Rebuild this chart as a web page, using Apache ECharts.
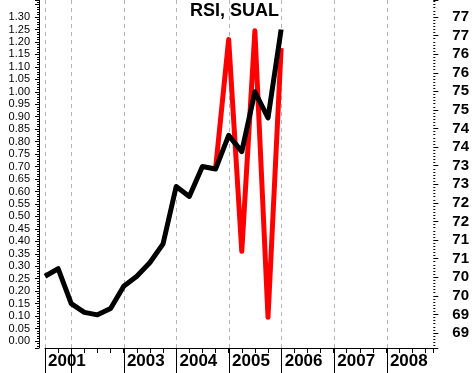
<!DOCTYPE html>
<html><head><meta charset="utf-8">
<script src="https://cdn.jsdelivr.net/npm/echarts@6/dist/echarts.min.js"></script>
<style>html,body{margin:0;padding:0;background:#fff}#c{width:472px;height:373px}</style>
</head><body><div id="c"></div>
<script>
// ---- data ----
const quarters = ['2001Q3','2001Q4','2002Q1','2002Q2','2002Q3','2002Q4','2003Q1','2003Q2','2003Q3','2003Q4',
                  '2004Q1','2004Q2','2004Q3','2004Q4','2005Q1','2005Q2','2005Q3','2005Q4','2006Q1'];
const blackValues = [0.26,0.29,0.15,0.115,0.105,0.13,0.22,0.26,0.315,0.39,
                     0.62,0.58,0.70,0.69,0.825,0.76,1.00,0.895,1.25];
const redQuarters = ['2004Q4','2005Q1','2005Q2','2005Q3','2005Q4','2006Q1'];
const redValues = [0.69,1.21,0.36,1.245,0.095,1.175];
const yearTicks = [2001.5,2002,2003,2004,2005,2006,2007,2008];
const yearLabels = ['2001','','2003','2004','2005','2006','2007','2008'];
const leftLabelRange = [0, 1.30];
const rightLabelRange = [68.5, 77];

// ---- layout ----
const W = 472;
const PX_PER_YEAR = 52.6, LEFT = 45;
const X0 = 2001.5, X1 = 2008.9, XY = 2008;
const grid1Right = W - (LEFT + PX_PER_YEAR * (X1 - X0));
const grid2Right = W - (LEFT + PX_PER_YEAR * (XY - X0));
const PX_PER_LEFT = 249.2, ZERO_Y = 341, PLOT_BOTTOM = 348;
const leftMin = -(PLOT_BOTTOM - ZERO_Y) / PX_PER_LEFT, leftMax = ZERO_Y / PX_PER_LEFT;
const PX_PER_RIGHT = 316 / 8.5;
const rightMin = 68.5 - (PLOT_BOTTOM - 333) / PX_PER_RIGHT, rightMax = 77 + 17 / PX_PER_RIGHT;

function qToNum(q) { return +q.slice(0, 4) + (+q.slice(5) - 1) / 4; }

const chart = echarts.init(document.getElementById('c'), null, {renderer: 'canvas'});
const black = '#000';
chart.setOption({
  animation: false,
  backgroundColor: '#fff',
  title: {text: 'RSI, SUAL', left: 190, top: 2, padding: 0,
    textStyle: {fontFamily: 'Liberation Sans', fontWeight: 'bold', fontSize: 18, color: black}},
  grid: [
    {left: LEFT, right: grid1Right, top: 0, bottom: 373 - PLOT_BOTTOM},
    {left: LEFT, right: grid2Right, top: 0, bottom: 373 - PLOT_BOTTOM}
  ],
  xAxis: [
    {gridIndex: 0, type: 'value', min: X0, max: X1, interval: 0.25,
      axisLine: {onZero: false, lineStyle: {color: black, width: 1}},
      axisTick: {length: 5, lineStyle: {color: black}},
      axisLabel: {show: false}, splitLine: {show: false}},
    {gridIndex: 1, type: 'value', min: X0, max: XY, minInterval: 1, maxInterval: 1, splitNumber: 7,
      axisLine: {show: false, onZero: false},
      axisTick: {show: true, length: 26, lineStyle: {color: black}},
      axisLabel: {show: true, showMinLabel: true, showMaxLabel: true, align: 'left', padding: [0, 0, 0, 3], margin: 5,
        fontFamily: 'Liberation Sans', fontWeight: 'bold', fontSize: 17, color: black,
        formatter: v => { const i = yearTicks.findIndex(t => Math.abs(t - v) < 1e-6); return i >= 0 ? yearLabels[i] : ''; }},
      splitLine: {show: true, showMinLine: true, showMaxLine: true, lineStyle: {color: '#b4b4b4', type: [4, 4], width: 1}}}
  ],
  yAxis: [
    {gridIndex: 0, type: 'value', position: 'left', offset: 6, min: leftMin, max: leftMax,
      minInterval: 0.05, maxInterval: 0.05, splitNumber: 28,
      axisLine: {show: true, onZero: false, lineStyle: {color: black}},
      axisTick: {length: 4, lineStyle: {color: black}},
      minorTick: {show: true, splitNumber: 5, length: 2, lineStyle: {color: black}},
      axisLabel: {margin: 9, fontFamily: 'Liberation Sans', fontSize: 11, color: black,
        formatter: v => (v >= leftLabelRange[0] - 1e-6 && v <= leftLabelRange[1] + 1e-6) ? v.toFixed(2) : ''},
      splitLine: {show: false}},
    {gridIndex: 0, type: 'value', position: 'right', min: rightMin, max: rightMax,
      minInterval: 0.5, maxInterval: 0.5, splitNumber: 18,
      axisLine: {show: false, onZero: false},
      axisTick: {show: true, length: 5, lineStyle: {color: black}},
      minorTick: {show: true, splitNumber: 6, length: 2, lineStyle: {color: black}},
      axisLabel: {margin: 19, fontFamily: 'Liberation Sans', fontWeight: 'bold', fontSize: 15, color: black,
        formatter: v => (v >= rightLabelRange[0] - 1e-6 && v <= rightLabelRange[1] + 1e-6) ? String(Math.round(v)) : ''},
      splitLine: {show: false}},
    {gridIndex: 1, type: 'value', show: false, min: 0, max: 1}
  ],
  series: [
    {name: 'RSI', type: 'line', xAxisIndex: 0, yAxisIndex: 0, symbol: 'none',
      data: redQuarters.map((q, i) => [qToNum(q), redValues[i]]),
      lineStyle: {color: '#ff0000', width: 5, join: 'round', cap: 'butt'}},
    {name: 'SUAL', type: 'line', xAxisIndex: 0, yAxisIndex: 0, symbol: 'none',
      data: quarters.map((q, i) => [qToNum(q), blackValues[i]]),
      lineStyle: {color: black, width: 5, join: 'round', cap: 'butt'}}
  ]
});
</script></body></html>
